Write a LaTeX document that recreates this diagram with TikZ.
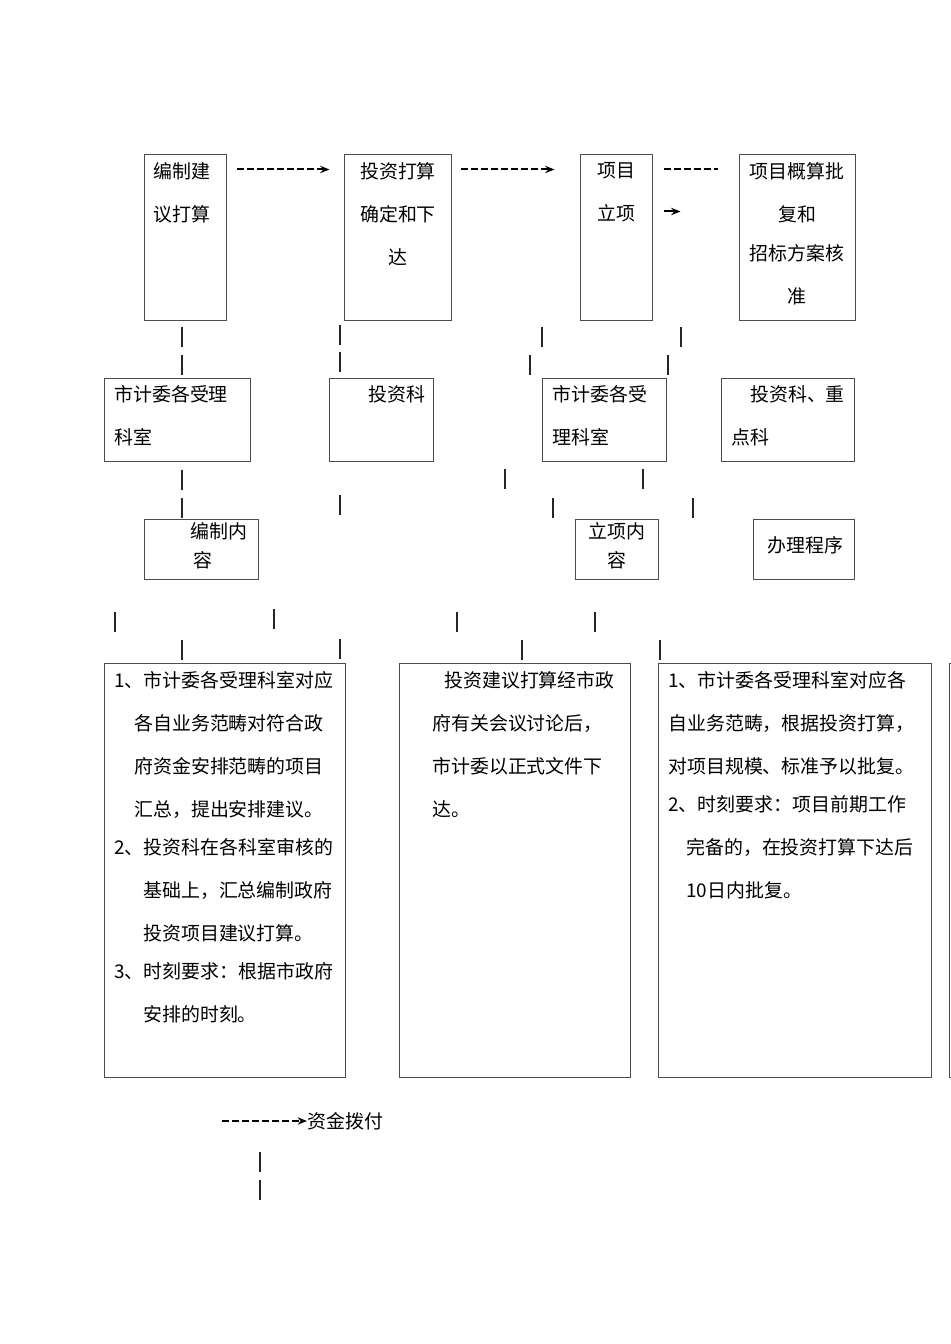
\documentclass[tikz,border=0pt]{standalone}
\usepackage{fontspec}
\newfontfamily\cjk{Noto Sans CJK SC}
\usetikzlibrary{arrows.meta,fit,calc}
\tikzset{
  every node/.style={font=\cjk\fontsize{14.2pt}{32.25pt}\selectfont,inner sep=0pt},
  box/.style={draw=black!70,line width=0.75pt,inner sep=0pt},
  txt/.style={anchor=north west,align=left},
  ctxt/.style={anchor=north,align=center},
  tight/.style={font=\cjk\fontsize{14.2pt}{21.75pt}\selectfont},
  tick/.style={draw=black!85,line width=0.8pt},
  dar/.style={-{Stealth[length=7pt,width=5.5pt]},draw=black,line width=1.5pt,
              dash pattern=on 5.5pt off 2pt},
  dln/.style={draw=black,line width=1.5pt,dash pattern=on 5.5pt off 2pt},
  sar/.style={-{Stealth[length=7pt,width=5.5pt]},draw=black,line width=1.5pt},
}
\begin{document}
\begin{tikzpicture}[x=0.75pt,y=-0.75pt]
\useasboundingbox (0,0) rectangle (950,1344);
% first row
\node[box,fit={(144,155) (226,320)}] (b1) {};
\node[box,fit={(344,155) (451,320)}] (b2) {};
\node[box,fit={(580,155) (652,320)}] (b3) {};
\node[box,fit={(739,155) (855,320)}] (b4) {};
\node[txt] (b1t) at (153,162) {编制建\\议打算};
\node[ctxt] (b2t) at (398,162) {投资打算\\确定和下\\达};
\node[ctxt] (b3t) at (616,162) {项目\\立项};
\node[ctxt] (b4t) at (797,162) {项目概算批\\复和\\[-3pt]招标方案核\\准};
\draw[dar] ($(b1.north east)+(10,15)$) -- ($(b2.north west)+(-14,15)$);
\draw[dar] ($(b2.north east)+(9,15)$) -- ($(b3.north west)+(-25,15)$);
\draw[dln] ($(b3.north east)+(11,15)$) -- ($(b4.north west)+(-21,15)$);
\coordinate (a4) at ($(b3.north east)+(11,57)$);
\draw[sar] (a4) -- ++(17,0);
% second row
\node[box,fit={(104,378) (250,461)}] (c1) {};
\node[box,fit={(329,378) (433,461)}] (c2) {};
\node[box,fit={(542,378) (666,461)}] (c3) {};
\node[box,fit={(721,378) (854,461)}] (c4) {};
\node[txt] (c1t) at (114,385) {市计委各受理\\科室};
\node[txt] (c2t) at (368,385) {投资科};
\node[txt] (c3t) at (552,385) {市计委各受\\理科室};
\node[txt] (c4t) at (731,385) {\hspace*{1em}投资科、重\\点科};
% third row
\node[box,fit={(144,519) (258,579)}] (d1) {};
\node[box,fit={(575,519) (658,579)}] (d2) {};
\node[box,fit={(753,519) (854,579)}] (d3) {};
\node[txt,tight] (d1t) at (190,522) {编制内\\\hspace*{2.25pt}容};
\node[ctxt,tight] (d2t) at (617,522) {立项内\\容};
\node[txt] (d3t) at (767,536) {办理程序};
% fourth row
\node[box,fit={(104,663) (345,1077)}] (e1) {};
\node[box,fit={(399,663) (630,1077)}] (e2) {};
\node[box,fit={(658,663) (931,1077)}] (e3) {};
\node[box,fit={(949,663) (990,1077)}] (e4) {};
\node[txt] (e1t) at (114,671) {1、市计委各受理科室对应\\\hspace*{15pt}各自业务范畴对符合政\\\hspace*{15pt}府资金安排范畴的项目\\\hspace*{15pt}汇总，提出安排建议。\\[-3.75pt]2、投资科在各科室审核的\\\hspace*{21.75pt}基础上，汇总编制政府\\\hspace*{21.75pt}投资项目建议打算。\\[-3.75pt]3、时刻要求：根据市政府\\\hspace*{21.75pt}安排的时刻。};
\node[txt] (e2t) at (432,671) {\hspace*{9pt}投资建议打算经市政\\府有关会议讨论后，\\市计委以正式文件下\\达。};
\node[txt] (e3t) at (668,671) {1、市计委各受理科室对应各\\自业务范畴，根据投资打算，\\对项目规模、标准予以批复。\\[-3.75pt]2、时刻要求：项目前期工作\\\hspace*{13.5pt}完备的，在投资打算下达后\\\hspace*{13.5pt}10日内批复。};
% funds
\node[anchor=west] (fund) at (307,1121) {资金拨付};
\coordinate (fs) at (222,1121);
\draw[dar] (fs) -- (fund.west);
% broken marks
\foreach \x/\y in {182/327,182/355,340/325,340/352,542/327,530/355,681/327,668/355,
                   182/470,182/498,340/495,505/469,643/469,553/498,693/498,
                   115/612,274/609,182/640,340/639,457/612,595/612,522/640,660/640,
                   260/1152,260/1180}
  \draw[tick] (\x,\y) -- ++(0,20);
\end{tikzpicture}
\end{document}
